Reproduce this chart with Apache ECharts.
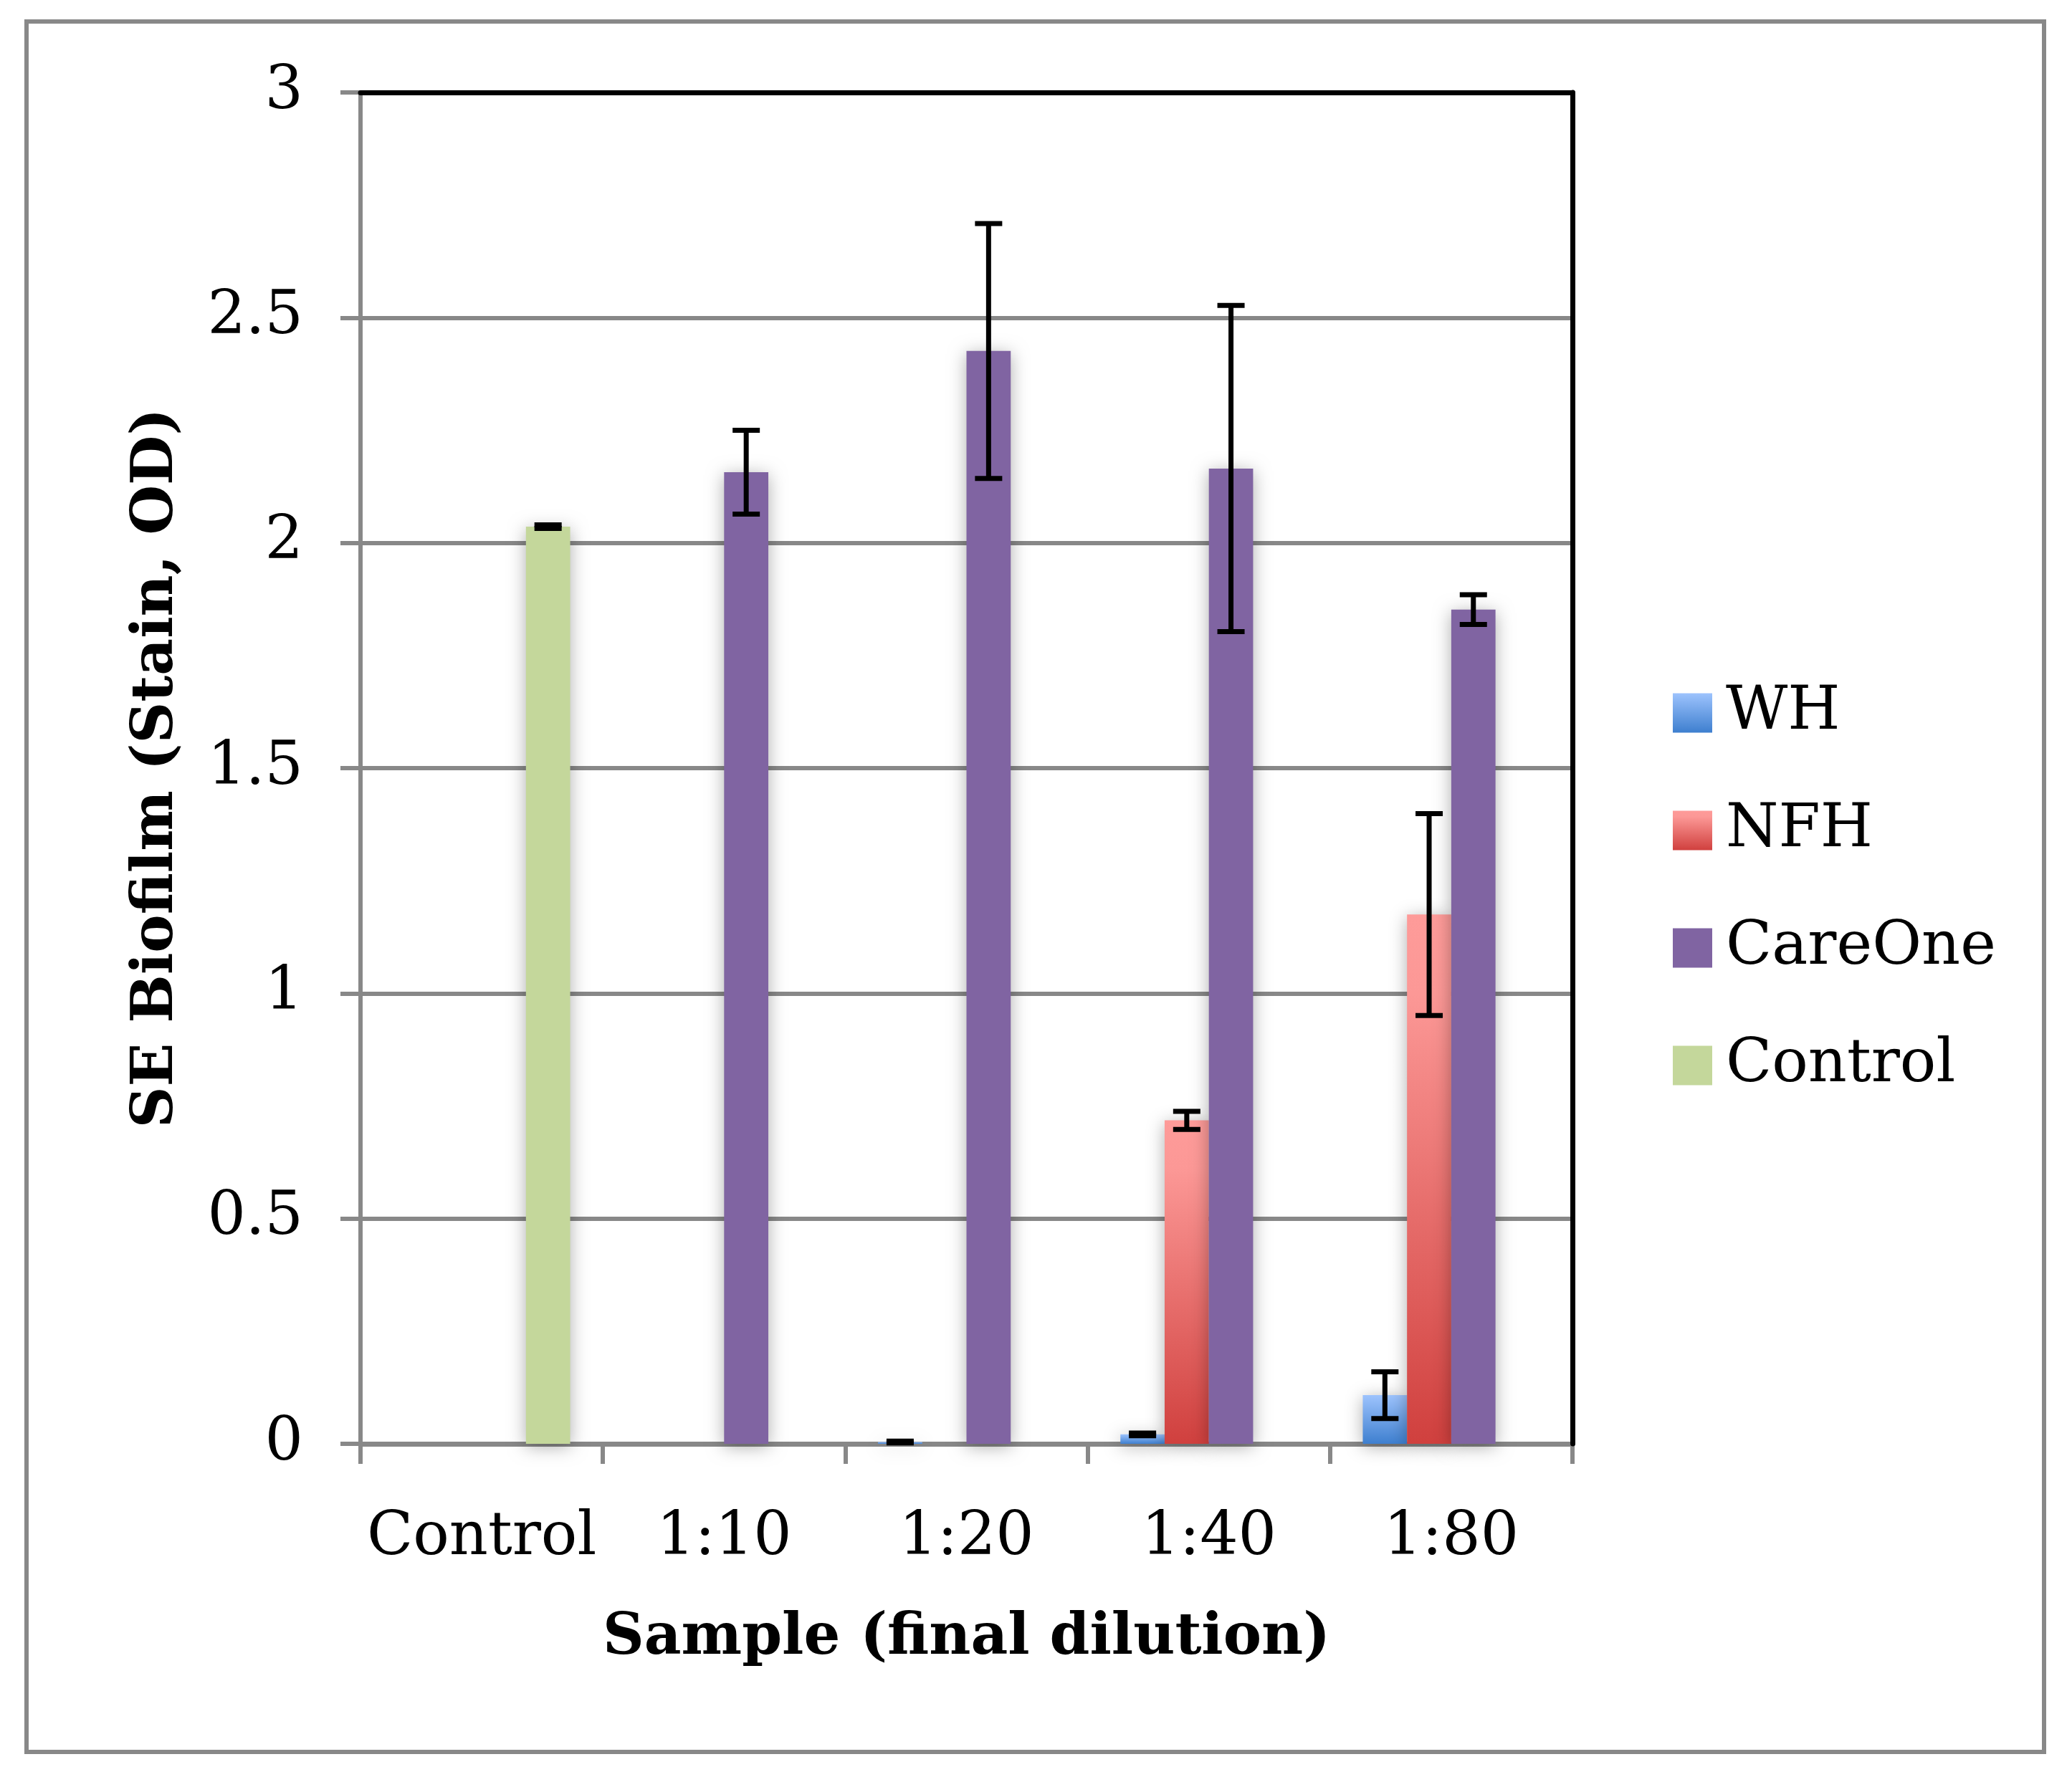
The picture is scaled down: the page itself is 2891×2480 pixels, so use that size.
<!DOCTYPE html>
<html lang="en">
<head>
    <meta charset="UTF-8">
    <title>SE Biofilm</title>
    <script src="https://cdn.jsdelivr.net/npm/echarts@6/dist/echarts.min.js"></script>
    <style>
        * {
            margin: 0;
            padding: 0;
            box-sizing: border-box;
        }

        body {
            background-color: #ffffff;
        }

        #chart {
            width: 2891px;
            height: 2480px;
        }
    </style>
</head>
<body>
    <div id="chart"></div>

    <script>
        // data
        const categories = ['Control', '1:10', '1:20', '1:40', '1:80'];
        const seriesNames = ['WH', 'NFH', 'CareOne', 'Control'];
        const whValues = [null, null, 0.004, 0.021, 0.108];
        const whErrors = [null, null, 0.002, 0.003, 0.052];
        const nfhValues = [null, null, null, 0.718, 1.175];
        const nfhErrors = [null, null, null, 0.02, 0.224];
        const careOneValues = [null, 2.157, 2.426, 2.165, 1.852];
        const careOneErrors = [null, 0.093, 0.283, 0.362, 0.033];
        const controlValues = [2.036, null, null, null, null];
        const controlErrors = [0.004, null, null, null, null];
        const yTicks = [0, 0.5, 1, 1.5, 2, 2.5, 3];

        const font = 'DejaVu Serif';
        const gray = '#888888';
        const catGap = 0.27;

        const barShadow = {
            shadowBlur: 24,
            shadowColor: 'rgba(0, 0, 0, 0.32)',
            shadowOffsetY: 4
        };

        function grad(stops) {
            return new echarts.graphic.LinearGradient(0, 0, 0, 1, stops);
        }

        const colors = [
            grad([{ offset: 0, color: '#9dc3fd' }, { offset: 1, color: '#3e7fcf' }]),
            grad([{ offset: 0, color: '#fe9b99' }, { offset: 0.15, color: '#fc9896' }, { offset: 1, color: '#d0403e' }]),
            '#8064a2',
            '#c4d79b'
        ];

        const values = [whValues, nfhValues, careOneValues, controlValues];
        const errors = [whErrors, nfhErrors, careOneErrors, controlErrors];

        // error bar rows: [category index, series index, value, error]
        const errRows = [];
        values.forEach(function (vals, s) {
            vals.forEach(function (v, c) {
                if (v !== null && errors[s][c] !== null) {
                    errRows.push([c, s, v, errors[s][c]]);
                }
            });
        });

        const chart = echarts.init(document.getElementById('chart'), null, { renderer: 'canvas' });

        const barSeries = seriesNames.map(function (name, i) {
            return {
                name: name,
                type: 'bar',
                data: values[i],
                barGap: '0%',
                barCategoryGap: (catGap * 100) + '%',
                itemStyle: Object.assign({ color: colors[i] }, barShadow)
            };
        });

        const option = {
            animation: false,
            backgroundColor: '#ffffff',
            textStyle: { fontFamily: font },
            graphic: [{
                type: 'rect',
                shape: { x: 37, y: 30, width: 2815, height: 2415 },
                style: { fill: 'none', stroke: gray, lineWidth: 6 },
                z: -1
            }],
            grid: {
                left: 503,
                right: 697,
                top: 129,
                bottom: 465
            },
            legend: {
                orient: 'vertical',
                left: 2329,
                top: 945,
                itemWidth: 55,
                itemHeight: 55,
                itemGap: 74,
                data: seriesNames,
                textStyle: {
                    fontFamily: font,
                    fontSize: 84,
                    lineHeight: 90,
                    color: '#000000',
                    padding: [0, 0, 0, 14]
                },
                icon: 'rect'
            },
            xAxis: [{
                type: 'category',
                data: categories,
                name: 'Sample (final dilution)',
                nameLocation: 'middle',
                nameGap: 232,
                nameTextStyle: {
                    fontFamily: font,
                    fontWeight: 'bold',
                    fontSize: 80,
                    color: '#000000'
                },
                axisLine: { lineStyle: { color: gray, width: 7 } },
                axisTick: { show: true, interval: 0, length: 28, lineStyle: { color: gray, width: 6 } },
                axisLabel: {
                    interval: 0,
                    fontFamily: font,
                    fontSize: 84,
                    color: '#000000',
                    margin: 90
                }
            }, {
                // black frame on top of the plot
                type: 'category',
                data: categories,
                position: 'top',
                z: 5,
                axisLine: { show: true, onZero: false, lineStyle: { color: '#000000', width: 7 } },
                axisTick: { show: false },
                axisLabel: { show: false },
                splitLine: { show: false }
            }],
            yAxis: [{
                type: 'value',
                min: 0,
                max: 3,
                interval: 0.5,
                name: 'SE Biofilm (Stain, OD)',
                nameLocation: 'middle',
                nameGap: 244,
                nameTextStyle: {
                    fontFamily: font,
                    fontWeight: 'bold',
                    fontSize: 80,
                    color: '#000000'
                },
                axisLine: { show: true, lineStyle: { color: gray, width: 6 } },
                axisTick: { show: true, length: 28, lineStyle: { color: gray, width: 6 } },
                splitLine: { show: true, lineStyle: { color: gray, width: 6 } },
                axisLabel: {
                    fontFamily: font,
                    fontSize: 84,
                    color: '#000000',
                    margin: 80,
                    formatter: function (v) {
                        return yTicks.indexOf(v) >= 0 ? String(v) : '';
                    }
                }
            }, {
                // black frame on the right of the plot
                type: 'value',
                min: 0,
                max: 3,
                interval: 0.5,
                position: 'right',
                z: 5,
                axisLine: { show: true, onZero: false, lineStyle: { color: '#000000', width: 7 } },
                axisTick: { show: false },
                axisLabel: { show: false },
                splitLine: { show: false }
            }],
            series: barSeries.concat([{
                type: 'custom',
                name: 'errors',
                data: errRows,
                z: 10,
                renderItem: function (params, api) {
                    const c = api.value(0);
                    const s = api.value(1);
                    const v = api.value(2);
                    const e = api.value(3);
                    const band = api.size([1, 0])[0];
                    const bw = band * (1 - catGap) / 4;
                    const mid = api.coord([c, v]);
                    const x = mid[0] + (s - 1.5) * bw;
                    const yHi = api.coord([c, v + e])[1];
                    const yLo = api.coord([c, v - e])[1];
                    const half = 19;
                    const st = { stroke: '#000000', lineWidth: 7 };
                    return {
                        type: 'group',
                        children: [
                            { type: 'line', shape: { x1: x, y1: yHi, x2: x, y2: yLo }, style: st },
                            { type: 'line', shape: { x1: x - half, y1: yHi, x2: x + half, y2: yHi }, style: st },
                            { type: 'line', shape: { x1: x - half, y1: yLo, x2: x + half, y2: yLo }, style: st }
                        ]
                    };
                }
            }])
        };

        chart.setOption(option);
    </script>
</body>
</html>
